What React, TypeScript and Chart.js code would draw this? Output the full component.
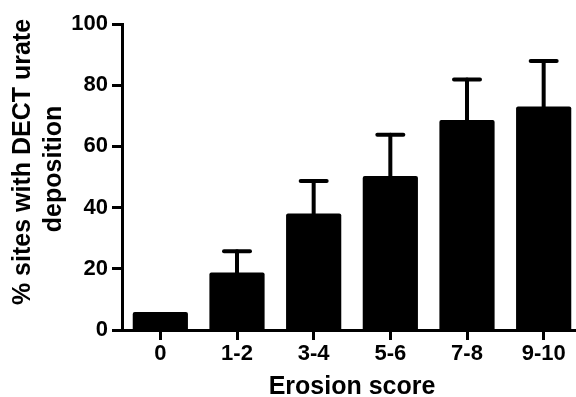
import React, { useEffect, useRef } from "react";
import { Chart, registerables } from "chart.js";

Chart.register(...registerables);

const categories = ["0", "1-2", "3-4", "5-6", "7-8", "9-10"];
const values = [5.9, 18.8, 38.1, 50.3, 68.6, 73.0];
const errorUpper = [0, 6.9, 10.6, 13.5, 13.3, 14.9];
const yTicks = [0, 20, 40, 60, 80, 100];
const xTitle = "Erosion score";
const yTitleLines = ["% sites with DECT urate", "deposition"];

const FONT = "'Liberation Sans', Arial, Helvetica, sans-serif";

const errorBarPlugin = {
  id: "errorBars",
  afterDatasetsDraw(chart: any) {
    const meta = chart.getDatasetMeta(0);
    const ys = chart.scales.y;
    const ctx = chart.ctx;
    ctx.save();
    ctx.strokeStyle = "#000";
    ctx.lineWidth = 4;
    ctx.lineCap = "round";
    meta.data.forEach((bar: any, i: number) => {
      const err = errorUpper[i];
      if (!err) return;
      const x = bar.x;
      const yBase = ys.getPixelForValue(values[i]);
      const yTop = ys.getPixelForValue(values[i] + err);
      ctx.beginPath();
      ctx.moveTo(x, yBase);
      ctx.lineTo(x, yTop);
      ctx.stroke();
      ctx.beginPath();
      ctx.moveTo(x - 13, yTop);
      ctx.lineTo(x + 13, yTop);
      ctx.stroke();
    });
    ctx.restore();
  },
};

const yTitlePlugin = {
  id: "yTitle",
  afterDraw(chart: any) {
    const ctx = chart.ctx;
    ctx.save();
    ctx.fillStyle = "#000";
    ctx.font = `bold 25px ${FONT}`;
    ctx.textAlign = "center";
    ctx.textBaseline = "middle";
    const pos = [
      { x: 23, y: 162 },
      { x: 54, y: 169 },
    ];
    yTitleLines.forEach((line, i) => {
      ctx.save();
      ctx.translate(pos[i].x, pos[i].y);
      ctx.rotate(-Math.PI / 2);
      ctx.fillText(line, 0, 0);
      ctx.restore();
    });
    ctx.restore();
  },
};

export default function App() {
  const ref = useRef<HTMLCanvasElement | null>(null);

  useEffect(() => {
    if (!ref.current) return;
    const chart = new Chart(ref.current, {
      type: "bar",
      data: {
        labels: categories,
        datasets: [
          {
            data: values,
            backgroundColor: "#000",
            borderWidth: 0,
            borderRadius: 2,
            borderSkipped: "bottom",
            barPercentage: 0.72,
            categoryPercentage: 1,
          },
        ],
      },
      options: {
        responsive: false,
        animation: false,
        devicePixelRatio: 1,
        layout: { padding: { left: 6, top: 24, right: 2, bottom: 0 } },
        plugins: {
          legend: { display: false },
          tooltip: { enabled: false },
        },
        scales: {
          x: {
            offset: true,
            border: { color: "#000", width: 3 },
            grid: {
              offset: false,
              drawOnChartArea: false,
              drawTicks: true,
              tickLength: 10,
              tickWidth: 3,
              tickColor: "#000",
            },
            ticks: {
              color: "#000",
              padding: 1,
              maxRotation: 0,
              font: { family: FONT, size: 22, weight: "bold" },
            },
            title: {
              display: true,
              text: xTitle,
              color: "#000",
              padding: 0,
              font: { family: FONT, size: 25, weight: "bold", lineHeight: 0.8 },
            },
            afterFit: (s: any) => {
              s.height = 67;
            },
          },
          y: {
            min: 0,
            max: 100,
            border: { color: "#000", width: 3 },
            grid: {
              drawOnChartArea: false,
              drawTicks: true,
              tickLength: 10,
              tickWidth: 3,
              tickColor: "#000",
            },
            afterBuildTicks: (s: any) => {
              s.ticks = yTicks.map((v) => ({ value: v }));
            },
            ticks: {
              color: "#000",
              padding: 4,
              font: { family: FONT, size: 22, weight: "bold" },
            },
            afterFit: (s: any) => {
              s.width = 116;
            },
          },
        },
      },
      plugins: [errorBarPlugin, yTitlePlugin],
    });
    return () => chart.destroy();
  }, []);

  return (
    <div
      style={{
        position: "fixed",
        left: 0,
        top: 0,
        width: 576,
        height: 397,
        overflow: "hidden",
        background: "#fff",
      }}
    >
      <canvas ref={ref} width={584} height={397} style={{ display: "block" }} />
    </div>
  );
}
